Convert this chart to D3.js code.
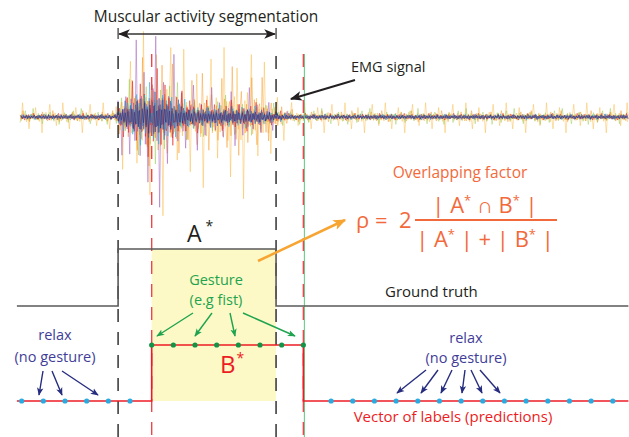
<!DOCTYPE html>
<html>
<head>
<meta charset="utf-8">
<script src="https://cdn.jsdelivr.net/npm/d3@7"></script>
<style>
  body { margin: 0; background: #fff; }
  svg { display: block; font-family: "Open Sans", "Noto Sans", sans-serif; }
</style>
</head>
<body>
<div id="chart"></div>
<script>
// canvas
var svgWidth = 629;
var svgHeight = 437;

// ---- data ---------------------------------------------------------------
// time axis is in "label index" units (one prediction per unit)
var gtTimes = [0.78, 5.45, 12.74, 29];      // ground truth steps
var gtValues = [0, 1, 0, 0];

var predStepTimes = [0.78, 7, 14, 29];       // predicted label steps
var predStepValues = [0, 1, 0, 0];

var predTimes = [1, 2, 3, 4, 5, 6, 7, 8, 9, 10, 11, 12, 13, 14,
  15.28, 16.28, 17.28, 18.28, 19.28, 20.28, 21.28, 22.28, 23.28, 24.28, 25.28, 26.28, 27.28, 28.28];
var predLabels = [0, 0, 0, 0, 0, 0, 1, 1, 1, 1, 1, 1, 1, 1,
  0, 0, 0, 0, 0, 0, 0, 0, 0, 0, 0, 0, 0, 0];

var segmentBounds = [5.45, 12.74];   // muscular activity segmentation
var predBounds = [7, 14];            // prediction onset / offset

// EMG activity envelopes
var emgEnvTimes = [0.92, 5.35, 5.54, 6.0, 6.46, 6.92, 7.38, 7.75, 8.21, 8.77, 9.46, 10.15, 10.85, 11.44, 12.0, 12.46, 12.92, 13.61, 29];
var emgEnvCore = [0, 0, 0.35, 0.65, 0.9, 1.0, 1.0, 0.8, 0.55, 0.4, 0.3, 0.28, 0.3, 0.3, 0.22, 0.15, 0.06, 0, 0];
var emgEnvSpiky = [0, 0, 0.35, 0.6, 0.85, 1.0, 1.0, 0.85, 0.7, 0.65, 0.62, 0.68, 0.75, 0.75, 0.6, 0.4, 0.12, 0, 0];
var emgRestLevel = 0.2;

// EMG channels: hand typed spike patterns
var emgYellow = [0.15, -0.25, 0.9, -0.12, 0.2, -0.3, 0.1, -0.75, 0.18, -0.1, 0.25, -0.2, 0.6, -0.15, 0.1, -0.28, 0.12, -1.0, 0.2, -0.14, 0.3, -0.1, 0.15, 0.8, -0.22, 0.1, -0.18, 0.26, -0.55, 0.12, -0.2];
var emgOrange = [0.2, -0.4, 0.1, -0.15, 0.65, -0.2, 0.3, -0.1, -0.5, 0.15, 0.25, -0.3, 0.8, -0.12, 0.1, -0.35, 0.2, -0.6, 0.12, 0.4, -0.18, 0.1, -0.25];
var emgGreen = [0.1, -0.2, 0.35, -0.1, 0.15, -0.45, 0.2, -0.08, 0.12, 0.5, -0.2, 0.1, -0.3, 0.18, -0.12, 0.7, -0.15, 0.08, -0.25, 0.3, -0.1, 0.14, -0.55, 0.2, -0.1, 0.25, -0.18, 0.1, 0.4, -0.12, 0.2, -0.35, 0.1, -0.08, 0.22, -0.6, 0.15];
var emgPurple = [-0.2, 0.3, -0.1, 0.85, -0.25, 0.12, -0.95, 0.18, -0.08, 0.4, -0.22, 0.1, -0.6, 0.28, -0.14, 0.2, -0.32, 1.0, -0.18, 0.08, -0.45, 0.24, -0.1, 0.5, -0.3, 0.14, -0.7, 0.2, -0.1];
var emgRed = [-0.15, 0.3, -0.25, 0.1, -0.5, 0.2, -0.1, 0.4, -0.3, 0.15, -0.12, 0.6, -0.2, 0.1, -0.35, 0.25, -0.1, 0.45, -0.2];
var emgCyan = [0.1, -0.18, 0.25, -0.3, 0.12, -0.08, 0.35, -0.15, 0.2, -0.4, 0.1, -0.12, 0.3, -0.22, 0.15, -0.1, 0.45, -0.2, 0.08, -0.28, 0.18, -0.12, 0.22, -0.35, 0.1, -0.15, 0.3];
var emgBlue = [0.08, -0.15, 0.2, -0.1, 0.12, -0.25, 0.1, -0.06, 0.18, -0.2, 0.3, -0.12, 0.08, -0.18, 0.15, -0.1, 0.22, -0.3, 0.1, -0.08, 0.16, -0.12, 0.25, -0.15, 0.06, -0.2, 0.12, -0.1, 0.35, -0.18, 0.1, -0.14, 0.2, -0.08, 0.12, -0.22, 0.18, -0.1, 0.08, -0.16, 0.24];
var emgNavy = [-0.1, 0.15, -0.2, 0.08, -0.12, 0.25, -0.15, 0.1, -0.18, 0.12, -0.08, 0.2, -0.14, 0.1, -0.22, 0.16, -0.1];

var emgChannels = [
  { pattern: emgYellow, env: emgEnvSpiky, color: "#f9b233", rest: 0.9, active: 1.0, opacity: 0.7 },
  { pattern: emgGreen, env: emgEnvCore, color: "#8dc63f", rest: 0.7, active: 0.75, opacity: 0.7 },
  { pattern: emgOrange, env: emgEnvSpiky, color: "#f7941d", rest: 0.45, active: 0.85, opacity: 0.75 },
  { pattern: emgPurple, env: emgEnvCore, color: "#a05cc0", rest: 0.15, active: 1.05, opacity: 0.85 },
  { pattern: emgRed, env: emgEnvCore, color: "#e2231a", rest: 0.35, active: 0.85, opacity: 0.85 },
  { pattern: emgCyan, env: emgEnvCore, color: "#27aae1", rest: 0.4, active: 0.8, opacity: 0.85 },
  { pattern: emgBlue, env: emgEnvCore, color: "#2e5aa8", rest: 0.5, active: 0.85, opacity: 0.85 },
  { pattern: emgNavy, env: emgEnvCore, color: "#3b1f6e", rest: 0.5, active: 0.75, opacity: 0.85 }
];

// colours
var cBlack = "#231f20";
var cGray = "#5a5a5a";
var cRed = "#ed1c24";
var cGreen = "#1fa34f";
var cGreenDot = "#129447";
var cBlueText = "#3f3d98";
var cBlueArrow = "#262c7e";
var cCyan = "#29abe2";
var cOrange = "#f26a3b";
var cOrangeArrow = "#f7a532";

// ---- scales -------------------------------------------------------------
var xScale = d3.scaleLinear().domain([0, 29]).range([0, 628.4]);
var emgY = d3.scaleLinear().domain([-1, 1]).range([205, 29]);
var gtY = d3.scaleLinear().domain([0, 1]).range([306, 249]);
var predY = d3.scaleLinear().domain([0, 1]).range([401, 345]);

var svg = d3.select("#chart")
  .append("svg")
  .attr("width", svgWidth)
  .attr("height", svgHeight);

// arrow markers
var defs = svg.append("defs");
function addMarker(id, color, size) {
  defs.append("marker")
    .attr("id", id)
    .attr("viewBox", "0 0 10 10")
    .attr("refX", 9)
    .attr("refY", 5)
    .attr("markerWidth", size)
    .attr("markerHeight", size)
    .attr("markerUnits", "userSpaceOnUse")
    .attr("orient", "auto-start-reverse")
    .append("path")
    .attr("d", "M0,1 L10,5 L0,9 L2.5,5 Z")
    .attr("fill", color);
}
addMarker("arBlack", cBlack, 12);
addMarker("arBlue", cBlueArrow, 8);
addMarker("arGreen", cGreen, 8);
addMarker("arOrange", cOrangeArrow, 13);

// ---- intersection area A* n B* -----------------------------------------
svg.append("rect")
  .attr("x", xScale(predBounds[0]))
  .attr("y", gtY(1))
  .attr("width", xScale(segmentBounds[1]) - xScale(predBounds[0]))
  .attr("height", predY(0) - gtY(1))
  .attr("fill", "#fcf9c6");

// ---- EMG signal ---------------------------------------------------------
var emgLine = d3.line()
  .x(d => xScale(d.t))
  .y(d => emgY(d.v));

var emgGroup = svg.append("g");
emgChannels.forEach(function(ch, ci) {
  var envelope = d3.scaleLinear().domain(emgEnvTimes).range(ch.env).clamp(true);
  var pts = [];
  var n = ch.pattern.length;
  var i = 0;
  for (var t = emgEnvTimes[0] + ci * 0.009; t <= 29; t += 0.06) {
    var amp = emgRestLevel * ch.rest + envelope(t) * ch.active;
    pts.push({ t: t, v: amp * ch.pattern[(i + ci * 5) % n] });
    i++;
  }
  emgGroup.append("path")
    .attr("d", emgLine(pts))
    .attr("fill", "none")
    .attr("stroke", ch.color)
    .attr("stroke-width", 0.6)
    .attr("opacity", ch.opacity);
});

// ---- dashed segmentation lines -----------------------------------------
svg.selectAll(".segLine")
  .data(segmentBounds)
  .enter()
  .append("line")
  .attr("x1", d => xScale(d))
  .attr("x2", d => xScale(d))
  .attr("y1", 56)
  .attr("y2", svgHeight)
  .attr("stroke", "#333")
  .attr("stroke-width", 1.5)
  .attr("stroke-dasharray", "13,10");

// green solid line at prediction offset
svg.append("line")
  .attr("x1", xScale(predBounds[1]) + 1)
  .attr("x2", xScale(predBounds[1]) + 1)
  .attr("y1", 54)
  .attr("y2", svgHeight)
  .attr("stroke", "#5cc97a")
  .attr("stroke-width", 1);

svg.selectAll(".predLine")
  .data(predBounds)
  .enter()
  .append("line")
  .attr("x1", d => xScale(d))
  .attr("x2", d => xScale(d))
  .attr("y1", 54)
  .attr("y2", svgHeight)
  .attr("stroke", "#e8474c")
  .attr("stroke-width", 1.4)
  .attr("stroke-dasharray", "13,10");

// ---- ground truth -------------------------------------------------------
var stepLine = d3.line().curve(d3.curveStepAfter);

svg.append("path")
  .attr("d", stepLine.x(d => xScale(d[0])).y(d => gtY(d[1]))(gtTimes.map((t, i) => [t, gtValues[i]])))
  .attr("fill", "none")
  .attr("stroke", cGray)
  .attr("stroke-width", 1.6);

// ---- predictions --------------------------------------------------------
svg.append("path")
  .attr("d", stepLine.x(d => xScale(d[0])).y(d => predY(d[1]))(predStepTimes.map((t, i) => [t, predStepValues[i]])))
  .attr("fill", "none")
  .attr("stroke", cRed)
  .attr("stroke-width", 1.6);

svg.selectAll(".predDot")
  .data(predTimes)
  .enter()
  .append("circle")
  .attr("cx", d => xScale(d))
  .attr("cy", (d, i) => predY(predLabels[i]))
  .attr("r", 2.6)
  .attr("fill", (d, i) => predLabels[i] ? cGreenDot : cCyan);

// ---- annotations --------------------------------------------------------
function arrow(x1, y1, x2, y2, color, marker, width) {
  svg.append("line")
    .attr("x1", x1).attr("y1", y1)
    .attr("x2", x2).attr("y2", y2)
    .attr("stroke", color)
    .attr("stroke-width", width)
    .attr("marker-end", "url(#" + marker + ")");
}

// segmentation double arrow
var segX0 = xScale(segmentBounds[0]);
var segX1 = xScale(segmentBounds[1]);
svg.append("line")
  .attr("x1", segX0 + 1).attr("x2", segX1 - 1)
  .attr("y1", 34).attr("y2", 34)
  .attr("stroke", "#333")
  .attr("stroke-width", 1.3)
  .attr("marker-start", "url(#arBlack)")
  .attr("marker-end", "url(#arBlack)");
[segX0, segX1].forEach(function(x) {
  svg.append("line")
    .attr("x1", x).attr("x2", x)
    .attr("y1", 28).attr("y2", 39)
    .attr("stroke", "#333")
    .attr("stroke-width", 1.2);
});

svg.append("text")
  .attr("x", 206)
  .attr("y", 22)
  .attr("text-anchor", "middle")
  .attr("font-size", 15.5)
  .attr("fill", cBlack)
  .text("Muscular activity segmentation");

// EMG signal label
svg.append("text")
  .attr("x", 351)
  .attr("y", 72)
  .attr("font-size", 14.5)
  .attr("fill", cBlack)
  .text("EMG signal");
arrow(355, 80, 291, 99, cBlack, "arBlack", 2);

// A*
var aText = svg.append("text")
  .attr("x", 187)
  .attr("y", 242)
  .attr("font-size", 23)
  .attr("fill", cBlack)
  .text("A");
aText.append("tspan").attr("dx", 4).attr("dy", -11).attr("font-size", 14).text("*");

// B*
var bText = svg.append("text")
  .attr("x", 220)
  .attr("y", 373)
  .attr("font-size", 24)
  .attr("fill", cRed)
  .text("B");
bText.append("tspan").attr("dx", 1).attr("dy", -10).attr("font-size", 14).text("*");

// gesture label
svg.append("text")
  .attr("x", 216).attr("y", 285)
  .attr("text-anchor", "middle")
  .attr("font-size", 14.5)
  .attr("fill", cGreen)
  .text("Gesture");
svg.append("text")
  .attr("x", 216).attr("y", 305)
  .attr("text-anchor", "middle")
  .attr("font-size", 14.5)
  .attr("fill", cGreen)
  .text("(e.g fist)");
arrow(193, 313, 157, 336, cGreen, "arGreen", 1.4);
arrow(212, 313, 195, 336, cGreen, "arGreen", 1.4);
arrow(230, 313, 235, 336, cGreen, "arGreen", 1.4);
arrow(243, 313, 295, 336, cGreen, "arGreen", 1.4);

// relax labels
[[55, 340, 362], [466, 343, 363]].forEach(function(p) {
  svg.append("text")
    .attr("x", p[0]).attr("y", p[1])
    .attr("text-anchor", "middle")
    .attr("font-size", 14.5)
    .attr("fill", cBlueText)
    .text("relax");
  svg.append("text")
    .attr("x", p[0]).attr("y", p[2])
    .attr("text-anchor", "middle")
    .attr("font-size", 14.5)
    .attr("fill", cBlueText)
    .text("(no gesture)");
});
arrow(43, 371, 39, 395, cBlueArrow, "arBlue", 1.4);
arrow(52, 371, 62, 395, cBlueArrow, "arBlue", 1.4);
arrow(62, 371, 98, 395, cBlueArrow, "arBlue", 1.4);

arrow(426, 370, 397, 393, cBlueArrow, "arBlue", 1.4);
arrow(438, 370, 421, 393, cBlueArrow, "arBlue", 1.4);
arrow(452, 370, 441, 393, cBlueArrow, "arBlue", 1.4);
arrow(465, 370, 462, 393, cBlueArrow, "arBlue", 1.4);
arrow(471, 370, 482, 393, cBlueArrow, "arBlue", 1.4);
arrow(480, 370, 500, 393, cBlueArrow, "arBlue", 1.4);

// ground truth / predictions labels
svg.append("text")
  .attr("x", 385).attr("y", 297)
  .attr("font-size", 15)
  .attr("fill", cBlack)
  .text("Ground truth");
svg.append("text")
  .attr("x", 453).attr("y", 422)
  .attr("text-anchor", "middle")
  .attr("font-size", 15)
  .attr("fill", cRed)
  .text("Vector of labels (predictions)");

// overlapping factor formula
arrow(258, 261, 345, 220, cOrangeArrow, "arOrange", 2.5);

svg.append("text")
  .attr("x", 460).attr("y", 178)
  .attr("text-anchor", "middle")
  .attr("font-size", 15.5)
  .attr("fill", cOrange)
  .text("Overlapping factor");

svg.append("text")
  .attr("x", 356).attr("y", 228)
  .attr("font-size", 22)
  .attr("fill", cOrange)
  .text("ρ =");
svg.append("text")
  .attr("x", 399).attr("y", 228)
  .attr("font-size", 22)
  .attr("fill", cOrange)
  .text("2");
svg.append("line")
  .attr("x1", 415).attr("x2", 557)
  .attr("y1", 220).attr("y2", 220)
  .attr("stroke", cOrange)
  .attr("stroke-width", 2);

var num = svg.append("text")
  .attr("x", 485).attr("y", 213)
  .attr("text-anchor", "middle")
  .attr("font-size", 22)
  .attr("fill", cOrange);
num.append("tspan").text("| A");
num.append("tspan").attr("dy", -8).attr("font-size", 13).text("*");
num.append("tspan").attr("dy", 8).text(" ∩ B");
num.append("tspan").attr("dy", -8).attr("font-size", 13).text("*");
num.append("tspan").attr("dy", 8).text(" |");

var den = svg.append("text")
  .attr("x", 485).attr("y", 247)
  .attr("text-anchor", "middle")
  .attr("font-size", 22)
  .attr("fill", cOrange);
den.append("tspan").text("| A");
den.append("tspan").attr("dy", -8).attr("font-size", 13).text("*");
den.append("tspan").attr("dy", 8).text(" | + | B");
den.append("tspan").attr("dy", -8).attr("font-size", 13).text("*");
den.append("tspan").attr("dy", 8).text(" |");
</script>
</body>
</html>
